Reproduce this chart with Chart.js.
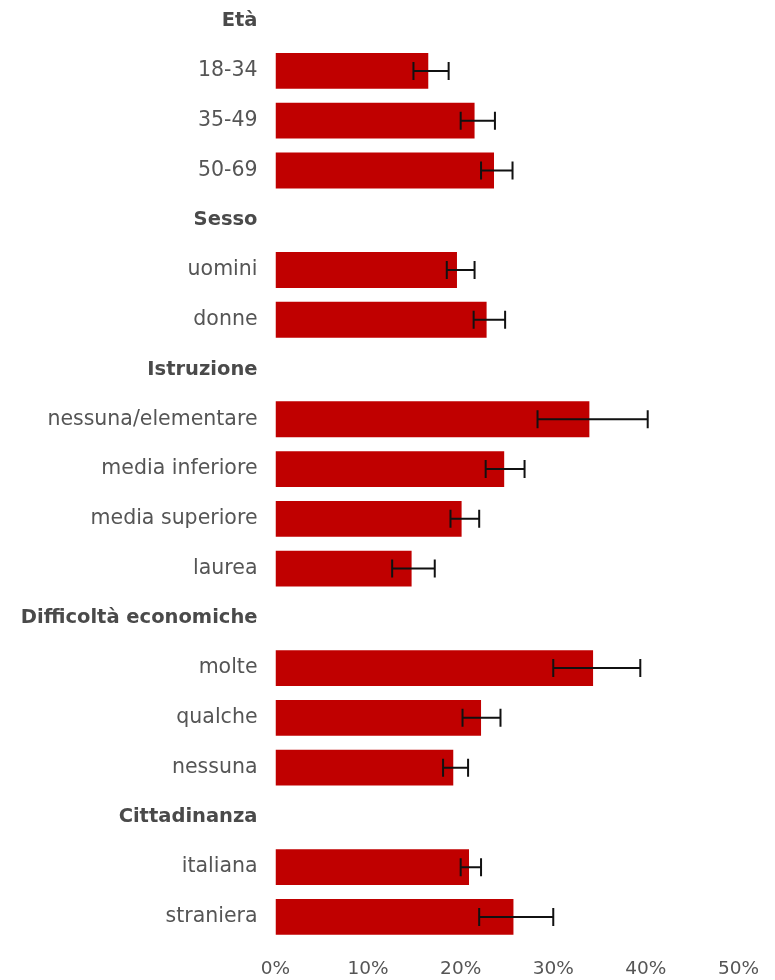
<!DOCTYPE html>
<html>
<head>
<meta charset="utf-8">
<script src="https://cdn.jsdelivr.net/npm/chart.js@4"></script>
<style>
  html, body { margin: 0; padding: 0; background: #fff; overflow: hidden; }
  #chart { position: absolute; left: 0; top: -34px; }
</style>
</head>
<body>
<canvas id="chart" width="775" height="1030"></canvas>
<script>
// rows, top to bottom (group headers have no bar)
const labels = [
  "Età", "18-34", "35-49", "50-69",
  "Sesso", "uomini", "donne",
  "Istruzione", "nessuna/elementare", "media inferiore", "media superiore", "laurea",
  "Difficoltà economiche", "molte", "qualche", "nessuna",
  "Cittadinanza", "italiana", "straniera"
];
const groupHeaders = ["Età", "Sesso", "Istruzione", "Difficoltà economiche", "Cittadinanza"];

// percentages
const values = [null, 16.5, 21.5, 23.6, null, 19.6, 22.8, null, 33.9, 24.7, 20.1, 14.7, null, 34.3, 22.2, 19.2, null, 20.9, 25.7];
// confidence interval bounds
const lower = [null, 14.9, 20.0, 22.2, null, 18.5, 21.4, null, 28.3, 22.7, 18.9, 12.6, null, 30.0, 20.2, 18.1, null, 20.0, 22.0];
const upper = [null, 18.7, 23.7, 25.6, null, 21.5, 24.8, null, 40.2, 26.9, 22.0, 17.2, null, 39.4, 24.3, 20.8, null, 22.2, 30.0];

const xTicks = [0, 10, 20, 30, 40, 50];

const isHeader = (i) => groupHeaders.includes(labels[i]);

// draws the error bars on top of the bars
const errorBars = {
  id: "errorBars",
  afterDatasetsDraw(chart) {
    const ctx = chart.ctx;
    const xScale = chart.scales.x;
    const meta = chart.getDatasetMeta(0);
    ctx.save();
    ctx.strokeStyle = "#111";
    ctx.lineWidth = 2;
    meta.data.forEach((bar, i) => {
      if (values[i] === null) return;
      const y = bar.y;
      const x1 = xScale.getPixelForValue(lower[i]);
      const x2 = xScale.getPixelForValue(upper[i]);
      ctx.beginPath();
      ctx.moveTo(x1, y);
      ctx.lineTo(x2, y);
      ctx.moveTo(x1, y - 9);
      ctx.lineTo(x1, y + 9);
      ctx.moveTo(x2, y - 9);
      ctx.lineTo(x2, y + 9);
      ctx.stroke();
    });
    ctx.restore();
  }
};

new Chart(document.getElementById("chart").getContext("2d"), {
  type: "bar",
  data: {
    labels: labels,
    datasets: [{
      data: values,
      backgroundColor: "#c00000",
      borderWidth: 0,
      barPercentage: 0.72,
      categoryPercentage: 1
    }]
  },
  options: {
    indexAxis: "y",
    responsive: false,
    animation: false,
    layout: { padding: { left: 0, right: 35, top: 0, bottom: 0 } },
    plugins: {
      legend: { display: false },
      tooltip: { enabled: false }
    },
    scales: {
      y: {
        grid: { display: false, drawTicks: false },
        border: { display: false },
        afterFit: (scale) => { scale.width = 275.5; },
        ticks: {
          padding: 18,
          autoSkip: false,
          color: (c) => isHeader(c.index) ? "#4a4a4a" : "#555",
          font: (c) => isHeader(c.index)
            ? { family: "DejaVu Sans", size: 19.5, weight: "bold" }
            : { family: "DejaVu Sans", size: 20.5, weight: "normal" }
        }
      },
      x: {
        min: 0,
        max: 50,
        afterBuildTicks: (scale) => { scale.ticks = xTicks.map((v) => ({ value: v })); },
        grid: { display: false, drawTicks: false },
        border: { display: false },
        ticks: {
          padding: 16,
          color: "#555",
          font: { family: "DejaVu Sans", size: 18.5 },
          maxRotation: 0,
          callback: (v) => v + "%"
        }
      }
    }
  },
  plugins: [errorBars]
});
</script>
</body>
</html>
